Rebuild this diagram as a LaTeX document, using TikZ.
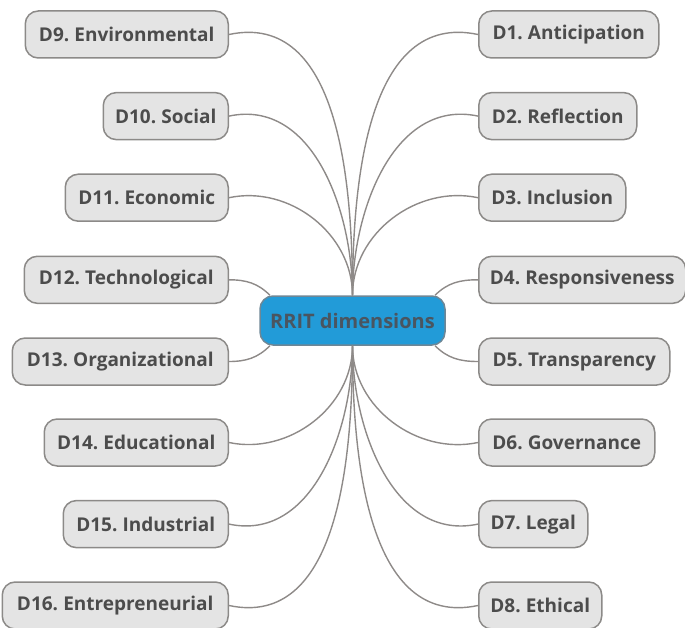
\documentclass[tikz,border=0pt]{standalone}
\usepackage{fontspec}
\setmainfont{Open Sans}[WordSpace=0.7]
\newfontfamily\hubfont{Open Sans}
\begin{document}
\begin{tikzpicture}[x=1pt,y=1pt]
\definecolor{boxfill}{HTML}{E4E4E4}
\definecolor{boxedge}{HTML}{8C8A88}
\definecolor{linkgray}{HTML}{8E8A88}
\definecolor{txtgray}{HTML}{4C4C4C}
\definecolor{hubblue}{HTML}{229BD8}
\definecolor{hubedge}{HTML}{6E8796}
\definecolor{hubtext}{HTML}{4A5560}
\tikzset{
  dim/.style={draw=boxedge, line width=1.5pt, fill=boxfill, rounded corners=13pt,
    minimum height=47pt, inner sep=0pt, text=txtgray,
    font=\fontsize{19}{21}\selectfont\bfseries},
  leftdim/.style={dim, anchor=east},
  rightdim/.style={dim, anchor=west},
  hub/.style={dim, fill=hubblue, draw=hubedge, minimum height=49pt, text=hubtext,
    font=\hubfont\fontsize{20}{22}\selectfont\bfseries},
  link/.style={draw=linkgray, line width=1.4pt}
}
\useasboundingbox (0,0) rectangle (685,-628);

% central topic
\node[hub, minimum width=185pt] (c) at (352.5,-320.5) {RRIT dimensions};

% left branch
\node[leftdim, minimum width=203pt] (d9)  at (229,-34.5)  {D9. Environmental};
\node[leftdim, minimum width=125pt] (d10) at (229,-116.1) {D10. Social};
\node[leftdim, minimum width=163pt] (d11) at (229,-197.7) {D11. Economic};
\node[leftdim, minimum width=204pt] (d12) at (229,-279.8) {D12. Technological};
\node[leftdim, minimum width=216pt] (d13) at (229,-361.5) {D13. Organizational};
\node[leftdim, minimum width=184pt] (d14) at (229,-442.5) {D14. Educational};
\node[leftdim, minimum width=165pt] (d15) at (229,-524.1) {D15. Industrial};
\node[leftdim, minimum width=226pt] (d16) at (229,-605.5) {D16. Entrepreneurial};

% right branch
\node[rightdim, minimum width=180pt] (d1) at (478,-34.5)  {D1. Anticipation};
\node[rightdim, minimum width=158pt] (d2) at (478,-116.1) {D2. Reflection};
\node[rightdim, minimum width=147pt] (d3) at (478,-197.7) {D3. Inclusion};
\node[rightdim, minimum width=207pt] (d4) at (478,-279.8) {D4. Responsiveness};
\node[rightdim, minimum width=191pt] (d5) at (478,-361.5) {D5. Transparency};
\node[rightdim, minimum width=176pt] (d6) at (478,-442.5) {D6. Governance};
\node[rightdim, minimum width=109pt] (d7) at (478,-524.1) {D7. Legal};
\node[rightdim, minimum width=123pt] (d8) at (478,-605.5) {D8. Ethical};

% connectors, upper fan
\draw[link] (c.north) to[out=90,in=12] (d9.east);
\draw[link] (c.north) to[out=90,in=12] (d10.east);
\draw[link] (c.north) to[out=90,in=12] (d11.east);
\draw[link] (c.north) to[out=90,in=168] (d1.west);
\draw[link] (c.north) to[out=90,in=168] (d2.west);
\draw[link] (c.north) to[out=90,in=168] (d3.west);

% connectors, sides
\draw[link] (c.163) to[out=135,in=0] (d12.east);
\draw[link] (c.197) to[out=-135,in=0] (d13.east);
\draw[link] (c.17) to[out=45,in=180] (d4.west);
\draw[link] (c.-17) to[out=-45,in=180] (d5.west);

% connectors, lower fan
\draw[link] (c.south) to[out=-90,in=-12] (d14.east);
\draw[link] (c.south) to[out=-90,in=-12] (d15.east);
\draw[link] (c.south) to[out=-90,in=-12] (d16.east);
\draw[link] (c.south) to[out=-90,in=-168] (d6.west);
\draw[link] (c.south) to[out=-90,in=-168] (d7.west);
\draw[link] (c.south) to[out=-90,in=-168] (d8.west);
\end{tikzpicture}
\end{document}
